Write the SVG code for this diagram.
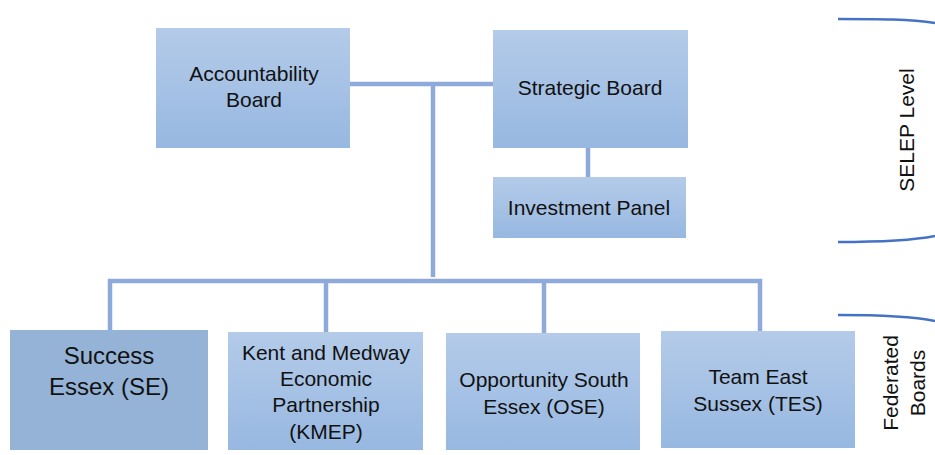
<svg xmlns="http://www.w3.org/2000/svg" width="935" height="455" viewBox="0 0 935 455">
<defs>
<linearGradient id="g" x1="0" y1="0" x2="0" y2="1">
<stop offset="0" stop-color="#b4cbe9"/>
<stop offset="1" stop-color="#97b8e1"/>
</linearGradient>
<style>
.box{fill:url(#g);}
.flat{fill:#95b3d7;}
.t{font-family:"Liberation Sans",Arial,sans-serif;font-size:21px;fill:#111;text-anchor:middle;}
.big{font-size:24px;}
.conn{stroke:#8eaadb;stroke-width:4.5;fill:none;}
.br{stroke:#4472c4;stroke-width:2.5;fill:none;}
</style>
</defs>
<rect width="935" height="455" fill="#fff"/>
<g id="connectors">
<line class="conn" x1="347" y1="84" x2="497" y2="84"/>
<line class="conn" x1="433" y1="84" x2="433" y2="277"/>
<line class="conn" x1="588" y1="146" x2="588" y2="179"/>
<polyline class="conn" points="110,331 110,281 760,281 760,331"/>
<line class="conn" x1="326" y1="281" x2="326" y2="333"/>
<line class="conn" x1="544" y1="281" x2="544" y2="333"/>
</g>
<g id="accountability-board">
<rect class="box" x="156" y="28" width="194" height="120"/>
<text class="t" x="254" y="81">Accountability</text>
<text class="t" x="254" y="107">Board</text>
</g>
<g id="strategic-board">
<rect class="box" x="493" y="30" width="195" height="118"/>
<text class="t" x="590" y="95">Strategic Board</text>
</g>
<g id="investment-panel">
<rect class="box" x="493" y="177" width="193" height="61"/>
<text class="t" x="589" y="215">Investment Panel</text>
</g>
<g id="success-essex">
<rect class="flat" x="10" y="330" width="198" height="120"/>
<text class="t big" x="109" y="364">Success</text>
<text class="t big" x="109" y="395">Essex (SE)</text>
</g>
<g id="kmep">
<rect class="box" x="228" y="332" width="195" height="118"/>
<text class="t" x="326" y="360">Kent and Medway</text>
<text class="t" x="326" y="386">Economic</text>
<text class="t" x="326" y="412">Partnership</text>
<text class="t" x="326" y="439">(KMEP)</text>
</g>
<g id="ose">
<rect class="box" x="446" y="333" width="194" height="117"/>
<text class="t" x="544" y="387">Opportunity South</text>
<text class="t" x="544" y="414">Essex (OSE)</text>
</g>
<g id="tes">
<rect class="box" x="661" y="331" width="194" height="117"/>
<text class="t" x="758" y="384">Team East</text>
<text class="t" x="758" y="411">Sussex (TES)</text>
</g>
<g id="selep-level">
<path class="br" d="M838,19 C880,19 910,19 935,23"/>
<path class="br" d="M838,242 C880,242 910,241 935,236"/>
<text class="t" transform="translate(914,130) rotate(-90)">SELEP Level</text>
</g>
<g id="federated-boards">
<path class="br" d="M838,315 C880,315 910,316 935,321"/>
<text class="t" transform="translate(898,383) rotate(-90)">Federated</text>
<text class="t" transform="translate(925,383) rotate(-90)">Boards</text>
</g>
</svg>
